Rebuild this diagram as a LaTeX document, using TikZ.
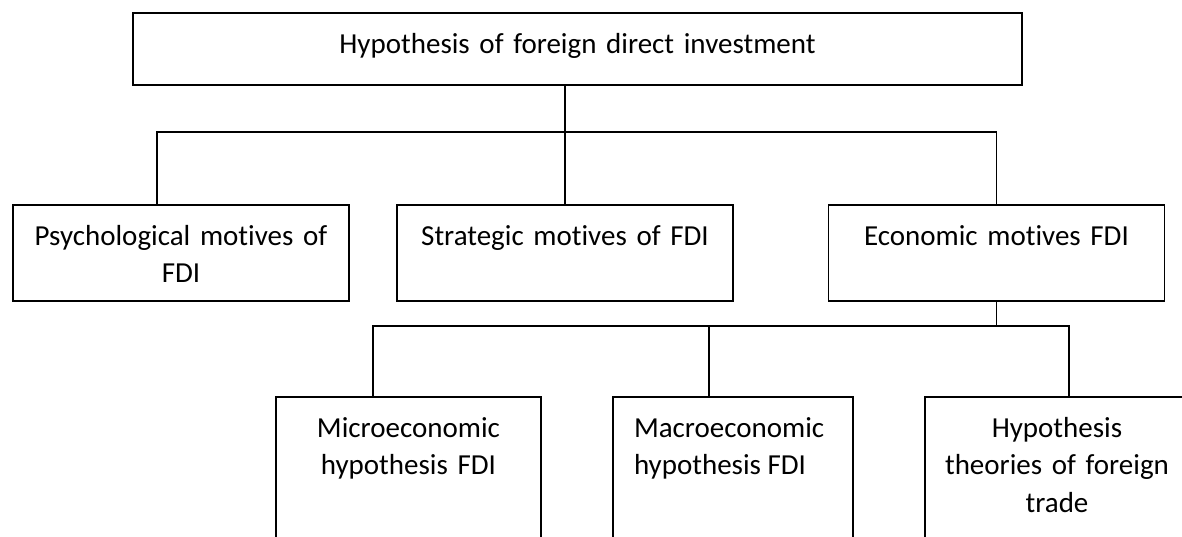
\documentclass[tikz,border=0pt]{standalone}
\usepackage{fontspec}
\setmainfont{Carlito}[Ligatures=NoCommon]
\usepackage{tikz}

\begin{document}
\begin{tikzpicture}[node distance=102pt, font=\fontsize{14.5}{18.75}\selectfont, line width=0.9pt]
	\tikzstyle{headbox} = [rectangle, minimum width=444.5pt, text width=444.5pt, inner xsep=0pt, inner ysep=0pt, text height=20pt, text depth=16pt, align=center, draw=black]
	
	\tikzstyle{motivebox} = [rectangle, minimum width=168pt, text width=168pt, inner xsep=0pt, inner ysep=0pt, text height=20pt, text depth=28pt, align=center, draw=black]
	
	\tikzstyle{theorybox} = [rectangle, inner xsep=0pt, inner ysep=0pt, text height=20pt, text depth=54pt, align=center, draw=black]
	
	\useasboundingbox (-288.75pt,24.5pt) rectangle (302.25pt,-243.5pt);
	
	% Top of the tree
	\node (hypo) [headbox] {Hypothesis of foreign direct investment};
	
	% Level 1 nodes
	\node (psych) [motivebox, below of = hypo, xshift=-198.25pt] {Psychological motives of\\FDI};
	\node (strat) [motivebox, below of = hypo, xshift=-6.25pt] {Strategic motives of FDI};
	\node (econ) [motivebox, below of = hypo, xshift=209.5pt] {Economic motives FDI};
	
	% Level 2 nodes
	\node (micro) [theorybox, text width=132.5pt, below of = econ, xshift=-294pt, yshift=-7pt] {Microeconomic\\hypothesis FDI};
	\node (macro) [theorybox, text width=99pt, inner xsep=10.5pt, align=flush left, below of = econ, xshift=-131.75pt, yshift=-7pt] {Macroeconomic\\hypothesis FDI};
	\node (trade) [theorybox, text width=132pt, below of = econ, xshift=30.25pt, yshift=-7pt] {Hypothesis\\theories of foreign\\trade};
	
	% Lines
	\coordinate (bus1) at ([yshift=36pt]strat.north);
	\coordinate (bus2) at ([yshift=-12pt]econ.south);
	
	\draw (hypo.south -| strat.north) -- (strat.north);
	\draw ([xshift=-12pt]psych.north) |- (bus1) -| (econ.north);
	
	\draw (econ.south) -- (bus2);
	\draw ([xshift=-17.75pt]micro.north) |- (bus2) -| ([xshift=6pt]trade.north);
	\draw ([xshift=-12pt]macro.north) -- ([xshift=-12pt]macro.north |- bus2);
\end{tikzpicture}
\end{document}
